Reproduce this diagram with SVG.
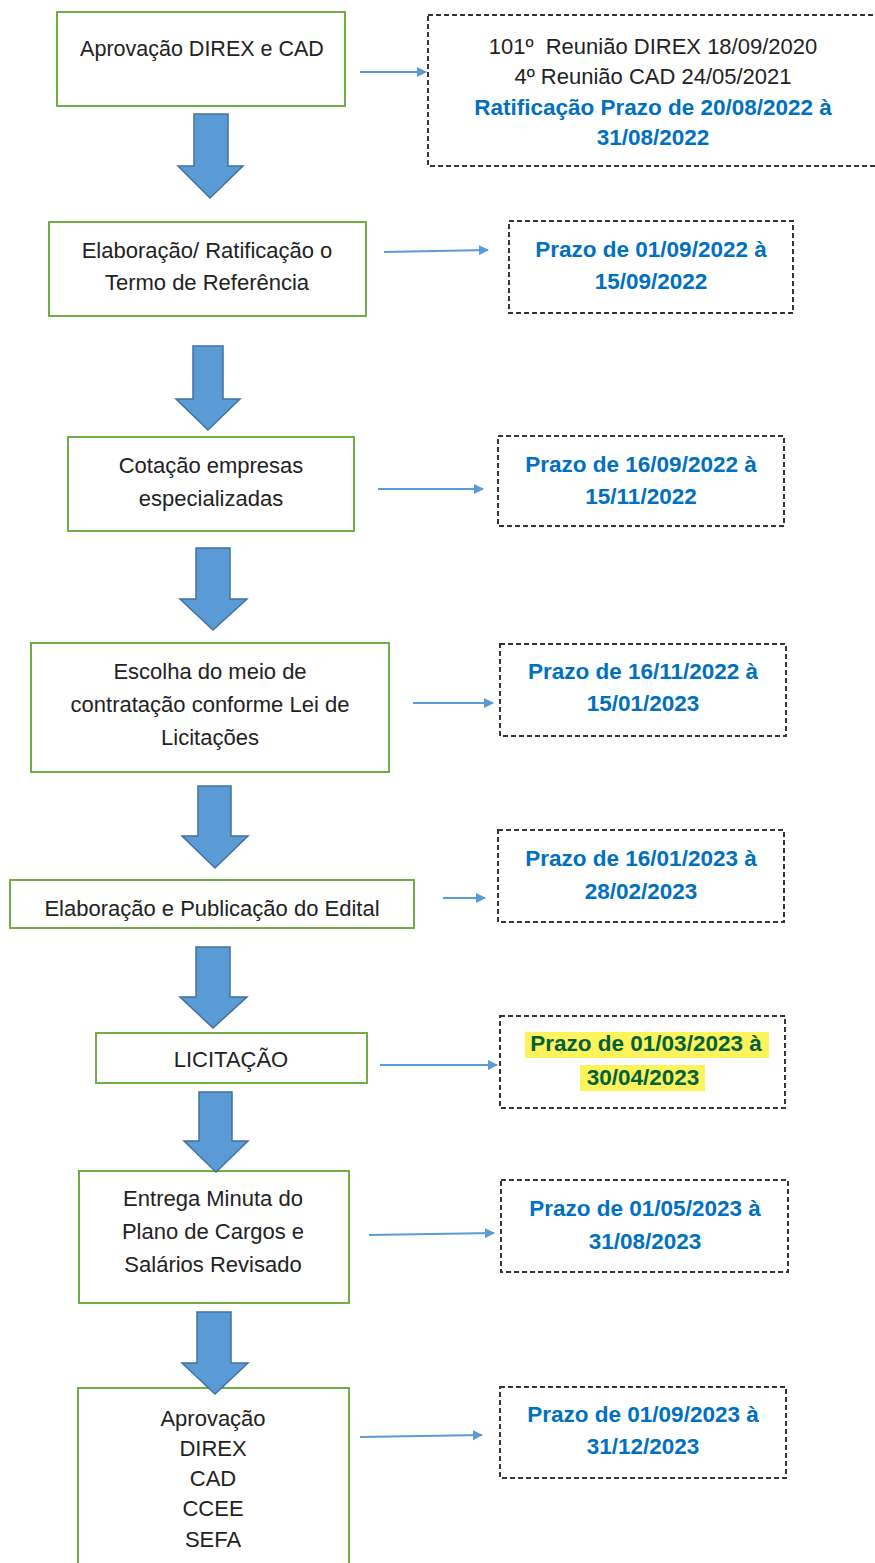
<svg xmlns="http://www.w3.org/2000/svg" width="875" height="1563" viewBox="0 0 875 1563">
<style>
.box{fill:#fff;stroke:#70AD47;stroke-width:2}
.dbox{fill:#fff;stroke:#333;stroke-width:2;stroke-dasharray:5 3}
.t{font-family:"Liberation Sans",Arial,sans-serif;font-size:22px;fill:#222;text-anchor:middle}
.b{font-family:"Liberation Sans",Arial,sans-serif;font-size:22.5px;font-weight:bold;fill:#0070C0;text-anchor:middle}
.g{fill:#00613A}
.ba{fill:#5B9BD5;stroke:#41719C;stroke-width:1.5}
.c{stroke:#5B9BD5;stroke-width:2;fill:none;marker-end:url(#ah)}
.hl{fill:#FFF35C}
</style>
<defs>
<marker id="ah" markerWidth="10" markerHeight="10" refX="9" refY="5" orient="auto" markerUnits="userSpaceOnUse" viewBox="0 0 10 10">
<path d="M0,0 L10,5 L0,10 z" fill="#5B9BD5"/>
</marker>
</defs>

<g id="n1"><rect class="box" x="57" y="12" width="288" height="94"/><text class="t" x="202" y="56" style="font-size:21.5px">Aprovação DIREX e CAD</text></g>
<g id="d1"><rect class="dbox" x="428" y="15" width="460" height="151"/>
<text class="t" x="653" y="54" xml:space="preserve">101º  Reunião DIREX 18/09/2020</text>
<text class="t" x="653" y="84">4º Reunião CAD 24/05/2021</text>
<text class="b" x="653" y="115">Ratificação Prazo de 20/08/2022 à</text>
<text class="b" x="653" y="145">31/08/2022</text></g>

<g id="n2"><rect class="box" x="49" y="222" width="317" height="94"/>
<text class="t" x="207" y="258">Elaboração/ Ratificação o</text>
<text class="t" x="207" y="290">Termo de Referência</text></g>
<g id="d2"><rect class="dbox" x="509" y="221" width="284" height="92"/>
<text class="b" x="651" y="257">Prazo de 01/09/2022 à</text>
<text class="b" x="651" y="289">15/09/2022</text></g>

<g id="n3"><rect class="box" x="68" y="437" width="286" height="94"/>
<text class="t" x="211" y="473">Cotação empresas</text>
<text class="t" x="211" y="506">especializadas</text></g>
<g id="d3"><rect class="dbox" x="498" y="436" width="286" height="90"/>
<text class="b" x="641" y="472">Prazo de 16/09/2022 à</text>
<text class="b" x="641" y="504">15/11/2022</text></g>

<g id="n4"><rect class="box" x="31" y="643" width="358" height="129"/>
<text class="t" x="210" y="679">Escolha do meio de</text>
<text class="t" x="210" y="712">contratação conforme Lei de</text>
<text class="t" x="210" y="745">Licitações</text></g>
<g id="d4"><rect class="dbox" x="500" y="644" width="286" height="92"/>
<text class="b" x="643" y="679">Prazo de 16/11/2022 à</text>
<text class="b" x="643" y="711">15/01/2023</text></g>

<g id="n5"><rect class="box" x="10" y="880" width="404" height="48"/>
<text class="t" x="212" y="916">Elaboração e Publicação do Edital</text></g>
<g id="d5"><rect class="dbox" x="498" y="830" width="286" height="92"/>
<text class="b" x="641" y="866">Prazo de 16/01/2023 à</text>
<text class="b" x="641" y="899">28/02/2023</text></g>

<g id="n6"><rect class="box" x="96" y="1033" width="271" height="50"/>
<text class="t" x="231" y="1067">LICITAÇÃO</text></g>
<g id="d6"><rect class="dbox" x="500" y="1016" width="285" height="92"/>
<rect class="hl" x="525" y="1032" width="244" height="26"/>
<rect class="hl" x="580" y="1065" width="125" height="26"/>
<text class="b g" x="646" y="1051">Prazo de 01/03/2023 à</text>
<text class="b g" x="643" y="1085">30/04/2023</text></g>

<g id="n7"><rect class="box" x="79" y="1171" width="270" height="132"/>
<text class="t" x="213" y="1206">Entrega Minuta do</text>
<text class="t" x="213" y="1239">Plano de Cargos e</text>
<text class="t" x="213" y="1272">Salários Revisado</text></g>
<g id="d7"><rect class="dbox" x="501" y="1180" width="287" height="92"/>
<text class="b" x="645" y="1216">Prazo de 01/05/2023 à</text>
<text class="b" x="645" y="1249">31/08/2023</text></g>

<g id="n8"><rect class="box" x="78" y="1388" width="271" height="185"/>
<text class="t" x="213" y="1426">Aprovação</text>
<text class="t" x="213" y="1456">DIREX</text>
<text class="t" x="213" y="1486">CAD</text>
<text class="t" x="213" y="1516">CCEE</text>
<text class="t" x="213" y="1547">SEFA</text></g>
<g id="d8"><rect class="dbox" x="500" y="1387" width="286" height="91"/>
<text class="b" x="643" y="1422">Prazo de 01/09/2023 à</text>
<text class="b" x="643" y="1454">31/12/2023</text></g>

<g id="connectors">
<line class="c" x1="360" y1="72" x2="426" y2="72"/>
<line class="c" x1="384" y1="252" x2="488" y2="250"/>
<line class="c" x1="378" y1="489" x2="483" y2="489"/>
<line class="c" x1="413" y1="703" x2="493" y2="703"/>
<line class="c" x1="443" y1="898" x2="485" y2="898"/>
<line class="c" x1="380" y1="1065" x2="497" y2="1065"/>
<line class="c" x1="369" y1="1235" x2="494" y2="1233"/>
<line class="c" x1="360" y1="1437" x2="482" y2="1435"/>
<path class="ba" d="M194,114 H228 V166 H243 L210,198 L178,166 H194 Z"/>
<path class="ba" d="M193,346 H223 V399 H240 L208,430 L176,399 H193 Z"/>
<path class="ba" d="M196,548 H230 V599 H247 L213,630 L180,599 H196 Z"/>
<path class="ba" d="M198,786 H231 V836 H248 L215,868 L182,836 H198 Z"/>
<path class="ba" d="M196,947 H230 V997 H247 L213,1028 L180,997 H196 Z"/>
<path class="ba" d="M199,1092 H232 V1141 H248 L216,1172 L184,1141 H199 Z"/>
<path class="ba" d="M197,1312 H231 V1363 H248 L215,1394 L182,1363 H197 Z"/>
</g>
</svg>
